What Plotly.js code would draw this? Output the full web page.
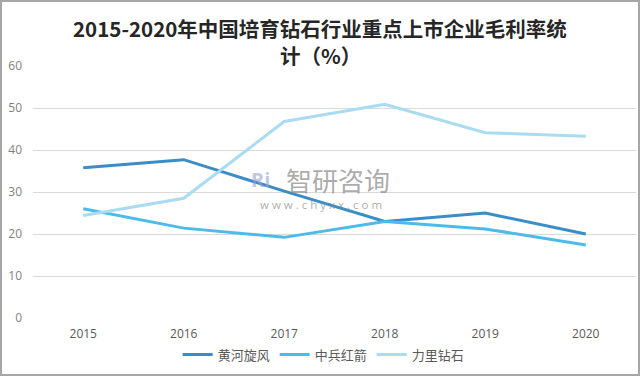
<!DOCTYPE html>
<html>
<head>
<meta charset="utf-8">
<script src="https://cdn.plot.ly/plotly-3.0.1.min.js"></script>
<style>
html,body{margin:0;padding:0;background:#fff;}
#frame{width:636px;height:372px;border:2px solid #a6a6a6;overflow:hidden;}
#chart{width:636px;height:372px;}
</style>
</head>
<body>
<div id="frame"><div id="chart"></div></div>
<script>
const years = ['2015','2016','2017','2018','2019','2020'];
const seriesNames = ['黄河旋风','中兵红箭','力里钻石'];
const huanghe = [35.8, 37.7, 30.2, 23.0, 25.0, 20.0];
const zhongbing = [26.0, 21.4, 19.2, 23.0, 21.2, 17.4];
const lili = [24.4, 28.5, 46.8, 50.9, 44.1, 43.3];
const yTicks = [0, 10, 20, 30, 40, 50, 60];
const titleLines = ['2015-2020年中国培育钻石行业重点上市企业毛利率统', '计（%）'];
const colors = ['#3a8dc6', '#4cbbe9', '#a9dbf1'];

const allValues = [huanghe, zhongbing, lili];
const traces = allValues.map((vals, i) => ({
  type: 'scatter',
  mode: 'lines',
  x: years,
  y: vals,
  name: seriesNames[i],
  line: {color: colors[i], width: 3}
}));

const titleFont = {family: '"Noto Sans CJK SC", sans-serif', size: 20.5, color: '#262626'};

const layout = {
  width: 636, height: 372,
  margin: {l: 31, r: 2, t: 64, b: 56, autoexpand: false},
  paper_bgcolor: '#ffffff',
  plot_bgcolor: '#ffffff',
  font: {family: '"Noto Sans CJK SC", "Open Sans", sans-serif', color: '#595959', size: 12},
  xaxis: {
    type: 'category',
    range: [-0.5, 5.5],
    showgrid: false, zeroline: false, showline: false,
    ticks: '',
    ticklabelstandoff: 7,
    tickfont: {size: 12, color: '#595959', family: '"Open Sans", sans-serif'}
  },
  yaxis: {
    range: [0, 60],
    tickvals: yTicks,
    ticktext: yTicks.map(String),
    showgrid: true, gridcolor: '#d9d9d9', gridwidth: 1,
    zeroline: false, showline: false,
    ticks: '',
    ticklabelstandoff: 10,
    tickfont: {size: 12, color: '#7f7f7f', family: '"Open Sans", sans-serif'}
  },
  showlegend: true,
  legend: {
    orientation: 'h', x: 0.482, xanchor: 'center',
    yref: 'container', y: 0.052, yanchor: 'middle',
    font: {size: 13, color: '#595959'},
    itemwidth: 30,
    traceorder: 'normal'
  },
  annotations: [
    {text: '<b>' + titleLines[0] + '</b>', xref: 'paper', yref: 'paper', x: 0.476, y: 1.151,
     xanchor: 'center', yanchor: 'middle', showarrow: false, font: titleFont},
    {text: '<b>' + titleLines[1] + '</b>', xref: 'paper', yref: 'paper', x: 0.476, y: 1.044,
     xanchor: 'center', yanchor: 'middle', showarrow: false, font: titleFont},
    {text: '智研咨询', xref: 'paper', yref: 'paper', x: 0.505, y: 0.55, showarrow: false,
     xanchor: 'center', yanchor: 'middle',
     font: {size: 26, color: 'rgba(135,135,135,0.7)', family: '"Noto Sans CJK SC", sans-serif'}},
    {text: 'w w w . c h y x x . c o m', xref: 'paper', yref: 'paper', x: 0.478, y: 0.452, showarrow: false,
     xanchor: 'center', yanchor: 'middle',
     font: {size: 11.5, color: 'rgba(135,135,135,0.7)', family: '"Open Sans", sans-serif'}},
    {text: '<b>Ri</b>', xref: 'paper', yref: 'paper', x: 0.378, y: 0.55, showarrow: false,
     xanchor: 'center', yanchor: 'middle',
     font: {size: 20, color: 'rgba(150,160,210,0.6)', family: '"Open Sans", sans-serif'}}
  ]
};

Plotly.newPlot('chart', traces, layout, {displayModeBar: false, staticPlot: true});
</script>
</body>
</html>
